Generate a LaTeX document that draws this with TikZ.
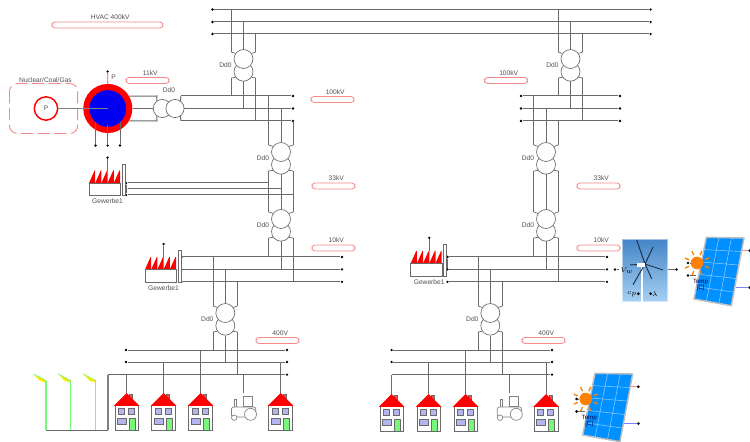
\documentclass[tikz,border=0pt]{standalone}
\usepackage{amsmath}
\usepackage{fontspec}
\setmainfont{Liberation Sans}
\usetikzlibrary{calc}
\definecolor{wire}{HTML}{6A6A6A}
\definecolor{pinkline}{HTML}{F48A8A}
\definecolor{txtgrey}{HTML}{505050}
\definecolor{pvblue}{HTML}{0090FF}
\definecolor{winblue}{HTML}{B4B4F0}
\definecolor{lampgreen}{HTML}{78F878}
\definecolor{skytop}{HTML}{4585C8}
\definecolor{skylow}{HTML}{A6D0F2}

%bus line: name, left x, left style, right x, right style, y
\newcommand{\busline}[6]{
\node [#3] (#1L) at (#2,#6) {};
\node [#5] (#1R) at (#4,#6) {};
\draw [bus] (#1L) -- (#1R);
}
%upright transformer: name, x, y of upper coil
\newcommand{\trafoV}[3]{
\node [coil] (#1d) at (#2,#3+12.7) {};
\node [coil] (#1u) at (#2,#3) {};
\coordinate (#1ul) at (#2-12.3,#3-7);
\coordinate (#1ur) at (#2+12.3,#3-7);
\coordinate (#1dl) at (#2-12.3,#3+19);
\coordinate (#1dr) at (#2+12.3,#3+19);
\draw [tap] (#1ul) -- (#1u.145);
\draw [tap] (#1ur) -- (#1u.35);
\draw [tap] (#1dl) -- (#1d.215);
\draw [tap] (#1dr) -- (#1d.325);
\node [lbl] (#1t) at (#2-18,#3+6) {Dd0};
}
%voltage tag: name, x, y, width, text
\newcommand{\volttag}[5]{
\node [pill,minimum width=#4*0.75pt] (#1) at (#2,#3) {};
\node [lbl] (#1t) at (#2+2.7,#3-7.5) {#5};
}
%factory: name, x, y of box corner
\newcommand{\factory}[3]{
\begin{scope}[shift={(#2,#3)}]
\foreach \i in {0,...,4} {
\fill [red] (6.2*\i,0) -- (6.2*\i+5.6,-12.5) -- (6.2*\i+6.2,-12.5) -- (6.2*\i+6.2,0) -- cycle ;
}
\draw [wire,fill=white] (0,0) rectangle (31.5,12.5) ;
\draw [wire,line width=1pt] (31.8,0) -- (31.8,12.5) ;
\draw [wire,fill=white] (33,-19) rectangle (36,12.5) ;
\node [pin] (#1top) at (18.6,-25.4) {};
\coordinate (#1roof) at (18.6,-12);
\draw [tap] (#1top) -- (#1roof);
\node [lbl] (#1t) at (18.5,18.4) {Gewerbe1};
\end{scope}
}
%house: name, x, y of roof top
\newcommand{\house}[3]{
\coordinate (#1) at (#2,#3);
\begin{scope}[shift={(#2,#3)}]
\draw [wire,fill=red!70!white,line width=0.4pt] (3,1) rectangle (6,6) ;
\draw [wire,fill=white] (-11.8,12.5) rectangle (11.8,37) ;
\fill [red] (-12.8,12.8) -- (0,0) -- (12.8,12.8) -- cycle ;
\draw [wire,fill=winblue,line width=0.4pt] (-8.3,15.3) rectangle (-2.7,21) ;
\draw [wire,fill=winblue,line width=0.4pt] (1.7,15.3) rectangle (7.3,21) ;
\draw [wire,fill=winblue,line width=0.4pt] (-9.3,25) rectangle (-0.7,31) ;
\draw [wire,fill=lampgreen,line width=0.4pt] (2.7,25) rectangle (8.7,37) ;
\end{scope}
}
%tractor: name, x, y of feed end
\newcommand{\tractor}[3]{
\coordinate (#1) at (#2,#3);
\begin{scope}[shift={(#2,#3)},draw=gray,line width=0.5pt]
\draw [fill=white] (-9,6.7) rectangle (-7,14) ;
\draw [fill=white] (-0.3,3.3) rectangle (9,13.5) ;
\draw [fill=white,rounded corners=1.5pt] (-12,14) rectangle (12.3,24) ;
\draw [fill=white] (7,21.3) circle (6) ;
\draw [fill=white] (-9.3,24.7) circle (2.7) ;
\end{scope}
}
%street lamp: name, x of pole
\newcommand{\lamp}[2]{
\coordinate (#1) at (#2,380.5);
\fill [yellow!90!orange] (#2-12.5,374) -- (#2,380.5) -- (#2-1,382) -- (#2-6,381) -- cycle ;
\draw [lampgreen,line width=0.5pt] (#2-12.5,374) -- (#2,380.5) ;
\draw [lampgreen,line width=1pt] (#1) -- (#1 |- lampfoot) ;
}
%solar panel: name, x, y of sun centre
\newcommand{\solar}[3]{
\begin{scope}[shift={(#2,#3)}]
\coordinate (#1a) at (9.3,-25.7);
\coordinate (#1b) at (47,-25);
\coordinate (#1c) at (34.3,42.7);
\coordinate (#1e) at (-3,36);
\filldraw [fill=pvblue,draw=black!25,line width=1.1pt] (#1a) -- (#1b) -- (#1c) -- (#1e) -- cycle ;
\foreach \t in {0.333,0.667} {
\draw [white!55!pvblue,line width=0.4pt] ($(#1a)!\t!(#1b)$) -- ($(#1e)!\t!(#1c)$) ;
}
\foreach \t in {0.2,0.4,0.6,0.8} {
\draw [white!55!pvblue,line width=0.4pt] ($(#1a)!\t!(#1e)$) -- ($(#1b)!\t!(#1c)$) ;
}
\node [sun] (#1s) at (0,0) {};
\foreach \a in {22,67,...,337} {
\draw [orange,line width=1pt] (\a:8.5) -- (\a:13) ;
}
\node [pin,minimum size=2.2pt] (#1i) at (-9,0) {};
\node [pin,minimum size=2.2pt] (#1j) at (-9,12.5) {};
\coordinate (#1k) at (-1,12.5);
\draw [tap] (#1i) -- (#1s);
\draw [tap] (#1j) -- (#1k);
\node [font=\fontsize{4.6pt}{5pt}\selectfont,text=black!70!blue,inner sep=0pt,align=center] (#1t) at (3.5,22.5) {Temp\\[-0.5pt]{[}C{]}};
\node [pin,minimum size=2.2pt] (#1p) at (52.7,-12.3) {};
\node [pin,minimum size=2.2pt] (#1q) at (52.7,24.6) {};
\coordinate (#1m) at (45,-12.3);
\coordinate (#1n) at (38.5,24.6);
\draw [pinkline,line width=0.6pt] (#1m) -- (#1p);
\draw [blue!50!white,line width=0.6pt] (#1n) -- (#1q);
\end{scope}
}

\begin{document}
\begin{tikzpicture}[x=0.75pt,y=0.75pt,yscale=-1,xscale=1,
  every node/.append style={font=\fontsize{5pt}{6pt}\selectfont},
  lbl/.style={inner sep=0pt,text=txtgrey},
  bus/.style={draw=wire,line width=0.75pt},
  tap/.style={draw=wire,line width=0.55pt},
  pin/.style={circle,fill=black,inner sep=0pt,minimum size=1.9pt},
  nopin/.style={inner sep=0pt,minimum size=0pt},
  coil/.style={circle,draw=wire,fill=white,inner sep=0pt,line width=0.5pt,minimum size=14.2pt},
  pill/.style={draw=pinkline,fill=white,rounded corners=2.4pt,inner sep=0pt,line width=0.6pt,minimum height=4.6pt},
  sun/.style={circle,fill=orange,inner sep=0pt,minimum size=9.4pt},
]
\useasboundingbox (0,0) rectangle (750,442);

%Shape: buses
\busline{hvA}{212.5}{pin}{650.7}{pin}{9.5}
\busline{hvB}{212.5}{pin}{650.7}{pin}{22}
\busline{hvC}{212.5}{pin}{650.7}{pin}{34}
\busline{hlA}{181}{nopin}{293}{pin}{96}
\busline{hlB}{184}{nopin}{293}{pin}{108.5}
\busline{hlC}{181}{nopin}{293}{pin}{121}
\busline{hrA}{521}{pin}{620}{pin}{96}
\busline{hrB}{521}{pin}{620}{pin}{108.5}
\busline{hrC}{521}{pin}{620}{pin}{121}
\busline{mlA}{126}{pin}{268.5}{nopin}{183}
\busline{mlB}{126}{pin}{281}{nopin}{189}
\busline{mlC}{126}{pin}{293}{nopin}{195}
\busline{tlA}{181.5}{pin}{342}{pin}{257}
\busline{tlB}{181.5}{pin}{342}{pin}{269.3}
\busline{tlC}{181.5}{pin}{342}{pin}{281.8}
\busline{trA}{447.5}{pin}{607}{pin}{257}
\busline{trB}{447.5}{pin}{607}{pin}{269.3}
\busline{trC}{447.5}{pin}{607}{pin}{281.8}
\busline{llA}{126}{pin}{287}{pin}{350}
\busline{llB}{126}{pin}{287}{pin}{362}
\busline{llC}{108}{nopin}{287}{pin}{374.7}
\busline{lrA}{391.7}{pin}{552}{pin}{350}
\busline{lrB}{391.7}{pin}{552}{pin}{362}
\busline{lrC}{391.7}{nopin}{552}{pin}{374.7}

%Shape: transformers
\trafoV{ta}{243.5}{59}
\trafoV{tb}{281}{152}
\trafoV{tc}{281}{219}
\trafoV{td}{225.3}{313}
\trafoV{te}{570.5}{59}
\trafoV{tf}{546}{152}
\trafoV{tg}{546}{219}
\trafoV{th}{490.3}{313}

%Feeds into and out of the transformers
\draw [tap] (taul |- hvAL) -- (taul);
\draw [tap] (tau.north |- hvBL) -- (tau.north);
\draw [tap] (taur |- hvCL) -- (taur);
\draw [tap] (tadl) -- (tadl |- hlAL);
\draw [tap] (tad.south) -- (tad.south |- hlBL);
\draw [tap] (tadr) -- (tadr |- hlCL);
\draw [tap] (tbul |- hlAL) -- (tbul);
\draw [tap] (tbu.north |- hlBL) -- (tbu.north);
\draw [tap] (tbur |- hlCL) -- (tbur);
\draw [tap] (tbdl) -- (tcul);
\draw [tap] (tbd.south) -- (tcu.north);
\draw [tap] (tbdr) -- (tcur);
\draw [tap] (tcdl) -- (tcdl |- tlAL);
\draw [tap] (tcd.south) -- (tcd.south |- tlBL);
\draw [tap] (tcdr) -- (tcdr |- tlCL);
\draw [tap] (tdul |- tlAL) -- (tdul);
\draw [tap] (tdu.north |- tlBL) -- (tdu.north);
\draw [tap] (tdur |- tlCL) -- (tdur);
\draw [tap] (tddl) -- (tddl |- llAL);
\draw [tap] (tdd.south) -- (tdd.south |- llBL);
\draw [tap] (tddr) -- (tddr |- llCL);

\draw [tap] (teul |- hvAL) -- (teul);
\draw [tap] (teu.north |- hvBL) -- (teu.north);
\draw [tap] (teur |- hvCL) -- (teur);
\draw [tap] (tedl) -- (tedl |- hrAL);
\draw [tap] (ted.south) -- (ted.south |- hrBL);
\draw [tap] (tedr) -- (tedr |- hrCL);
\draw [tap] (tful |- hrAL) -- (tful);
\draw [tap] (tfu.north |- hrBL) -- (tfu.north);
\draw [tap] (tfur |- hrCL) -- (tfur);
\draw [tap] (tfdl) -- (tgul);
\draw [tap] (tfd.south) -- (tgu.north);
\draw [tap] (tfdr) -- (tgur);
\draw [tap] (tgdl) -- (tgdl |- trAL);
\draw [tap] (tgd.south) -- (tgd.south |- trBL);
\draw [tap] (tgdr) -- (tgdr |- trCL);
\draw [tap] (thul |- trAL) -- (thul);
\draw [tap] (thu.north |- trBL) -- (thu.north);
\draw [tap] (thur |- trCL) -- (thur);
\draw [tap] (thdl) -- (thdl |- lrAL);
\draw [tap] (thd.south) -- (thd.south |- lrBL);
\draw [tap] (thdr) -- (thdr |- lrCL);

%Shape: generator block
\draw [pinkline,line width=0.7pt,dash pattern=on 9pt off 3.5pt,rounded corners=6pt] (9.5,83.5) rectangle (77.7,133.5) ;
\node [lbl] (nuc) at (45.5,80) {Nuclear/Coal/Gas};
\node [circle,draw=red,fill=white,line width=1.1pt,inner sep=0pt,minimum size=17.5pt] (turb) at (46,108.5) {};
\node [lbl] (turbt) at (46,108.5) {P};
\node [circle,fill=red,inner sep=0pt,minimum size=36.8pt] (gen) at (107.8,108.5) {};
\node [circle,fill=blue!95!black,inner sep=0pt,minimum size=27.5pt] (genin) at (107.8,108.5) {};
\draw [draw=gray,line width=1.1pt] (turb) -- (gen.center);
\node [pin] (pP) at (107.7,71.5) {};
\draw [red!70!white,line width=0.7pt] (pP) -- (gen.north);
\node [lbl] (pPt) at (113.5,77) {P};
\node [pin] (gA) at (95.5,145.5) {};
\node [pin] (gB) at (107.7,145.5) {};
\node [pin] (gC) at (120,145.5) {};
\draw [tap] (gA) -- (95.5,122);
\draw [tap] (gB) -- (107.7,125);
\draw [tap] (gC) -- (120,122);

%Shape: generator transformer
\node [coil,minimum size=13.6pt] (hl) at (162.3,108.5) {};
\node [coil,minimum size=13.6pt] (hr) at (175,108.5) {};
\coordinate (hlk1) at (157,96);
\coordinate (hlk2) at (157,121);
\draw [bus] (gen.30) -- (hlk1) -- (hl.125);
\draw [bus] (gen.east) -- (hl.west);
\draw [bus] (gen.-30) -- (hlk2) -- (hl.-125);
\draw [bus] (hlAL) -- (hr.55);
\draw [bus] (hlBL) -- (hr.east);
\draw [bus] (hlCL) -- (hr.-55);
\node [lbl] (hlt) at (169,90) {Dd0};

%Shape: factories
\factory{fa}{89}{183}
\factory{fb}{145}{269.5}
\factory{fc}{410.7}{263.3}
\draw [tap] (mlAL) -- (mlCL);
\draw [tap] (tlAL) -- (tlCL);
\draw [tap] (trAL) -- (trBL);

%Shape: street lights
\coordinate (lampfoot) at (46,430);
\lamp{la}{46}
\lamp{lb}{70.8}
\lamp{lc}{95.8}
\draw [bus] (lampfoot) -- (108,430);
\draw [draw=gray,line width=0.9pt] (llCL) -- (108,430);

%Shape: houses and tractors
\house{ha}{126.6}{393}
\house{hb}{163.5}{393}
\house{hc}{200.5}{393}
\tractor{ka}{243.5}{393}
\house{he}{280.5}{393}
\draw [tap] (ha |- llCL) -- (ha);
\draw [tap] (hb |- llBL) -- (hb);
\draw [tap] (hc |- llAL) -- (hc);
\draw [tap] (ka |- llCL) -- (ka);
\draw [tap] (he |- llBL) -- (he);
\house{ia}{391.7}{394}
\house{ib}{428.7}{394}
\house{ic}{465.7}{394}
\tractor{kb}{509.3}{393}
\house{ie}{546}{394}
\draw [tap] (ia |- lrCL) -- (ia);
\draw [tap] (ib |- lrBL) -- (ib);
\draw [tap] (ic |- lrAL) -- (ic);
\draw [tap] (kb |- lrCL) -- (kb);
\draw [tap] (ie |- lrBL) -- (ie);

%Shape: wind turbine
\node [top color=skytop,bottom color=skylow,inner sep=0pt,minimum width=34.5pt,minimum height=47pt] (wt) at (645,270.5) {};
\draw [white,opacity=0.5,line width=1.2pt] (wt.north west) rectangle (wt.south east) ;
\coordinate (hub) at (645,264);
\fill [white] (641.3,264) rectangle (643.3,302) ;
\foreach \p/\q in {636.7/240,653/247,651.7/278.7,633/284.7,630/265,663/270} {
\draw [black!65!skytop,line width=0.7pt] (hub) -- (\p,\q) ;
}
\fill [white] (637,263) rectangle (645,267) ;
\node [pin] (wtIn) at (615,269.5) {};
\coordinate (wtInE) at (619,269.5);
\draw [tap] (wtIn) -- (wtInE);
\node [pin] (wtOut) at (676.5,269.5) {};
\draw [tap] (wt.east |- wtOut) -- (wtOut);
\node [lbl,text=black] (wtv) at (627,270.5) {$V_w$};
\node [lbl,text=black] (wtc) at (632,294) {$c_p$};
\node [pin,minimum size=2.2pt] (wtcp) at (638.4,293.7) {};
\node [lbl,text=black] (wtl) at (655,294) {$\lambda$};
\node [pin,minimum size=2.2pt] (wtlp) at (650.7,293.7) {};

%Shape: solar panels
\solar{sa}{697}{263}
\solar{sb}{585.7}{399}

% Text Node
\volttag{vhv}{107.5}{25}{111}{HVAC 400kV}
\volttag{vg}{147.5}{80.5}{43}{11kV}
\volttag{vha}{332.5}{99.5}{43}{100kV}
\volttag{vhb}{506}{80.5}{43}{100kV}
\volttag{vma}{333.5}{186}{43}{33kV}
\volttag{vmb}{598.5}{186}{43}{33kV}
\volttag{vta}{333.5}{248}{43}{10kV}
\volttag{vtb}{598.5}{248}{43}{10kV}
\volttag{vla}{277.5}{340.5}{43}{400V}
\volttag{vlb}{543.5}{340.5}{43}{400V}
\end{tikzpicture}
\end{document}
